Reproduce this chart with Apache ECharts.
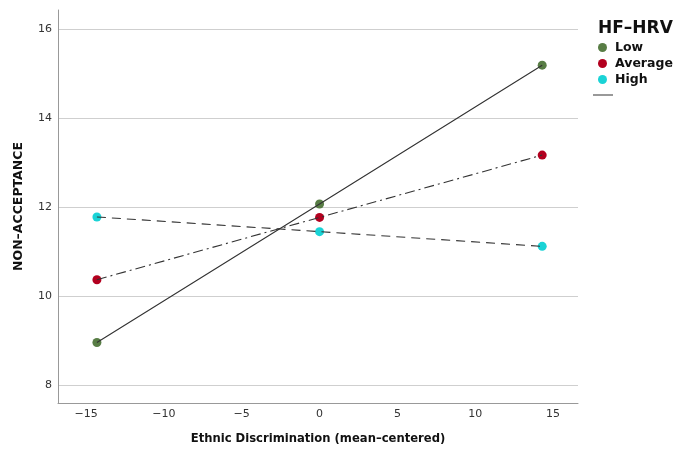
<!DOCTYPE html>
<html>
<head>
<meta charset="utf-8">
<script src="https://cdn.jsdelivr.net/npm/echarts@6/dist/echarts.min.js"></script>
<style>html,body{margin:0;padding:0;background:#fff}#chart{width:676px;height:450px}</style>
</head>
<body>
<div id="chart"></div>
<script>
const xValues = [-14.3, 0, 14.3];
const lowValues = [8.96, 12.07, 15.19];
const averageValues = [10.37, 11.77, 13.17];
const highValues = [11.78, 11.45, 11.12];
const xTicks = [-15, -10, -5, 0, 5, 10, 15];
const yTicks = [8, 10, 12, 14, 16];
const groupNames = ['Low', 'Average', 'High'];
const groupColors = ['#587d45', '#b3001f', '#1ad3d6'];
const lineTypes = ['solid', [10, 4, 2, 4], [9, 6]];
const groupValues = [lowValues, averageValues, highValues];

const FONT = 'DejaVu Sans';
const chart = echarts.init(document.getElementById('chart'), null, {renderer: 'canvas'});

const pairs = vals => xValues.map((x, i) => [x, vals[i]]);
const series = [];
groupNames.forEach((n, i) => {
  series.push({
    name: n, type: 'scatter', data: pairs(groupValues[i]),
    symbolSize: 9, itemStyle: {color: groupColors[i], opacity: 1}, z: 2
  });
});
groupNames.forEach((n, i) => {
  series.push({
    name: 'Fit', type: 'line', data: pairs(groupValues[i]),
    symbol: 'none', lineStyle: {color: '#333', width: 1.1, type: lineTypes[i]},
    itemStyle: {color: '#999'}, z: 3
  });
});

chart.setOption({
  animation: false,
  title: {
    text: 'HF–HRV', left: 593, top: 15,
    textStyle: {fontFamily: FONT, fontSize: 17, fontWeight: 'bold', color: '#111'}
  },
  legend: [{
    data: groupNames, orient: 'vertical', left: 598, top: 41, padding: [0, 0, 0, 0],
    icon: 'circle', itemWidth: 9, itemHeight: 9, itemGap: 3,
    textStyle: {fontFamily: FONT, fontSize: 12.5, fontWeight: 'bold', color: '#111', padding: [0, 0, 0, 3]}
  }, {
    data: [{name: 'Fit', icon: 'rect', itemStyle: {color: '#999'}}],
    left: 593, top: 94, padding: [0, 0, 0, 0], itemWidth: 20, itemHeight: 2,
    formatter: () => ''
  }],
  grid: {left: 58, right: 98, top: 10, bottom: 47, containLabel: false},
  xAxis: {
    type: 'value', min: -16.8, max: 16.6,
    name: 'Ethnic Discrimination (mean–centered)', nameLocation: 'middle', nameGap: 30,
    nameTextStyle: {fontFamily: FONT, fontSize: 11.6, fontWeight: 'bold', color: '#111'},
    axisLine: {show: true, onZero: false, lineStyle: {color: '#999', width: 1}},
    axisTick: {show: false, customValues: xTicks},
    splitLine: {show: false},
    axisLabel: {customValues: xTicks, margin: 6, fontFamily: FONT, fontSize: 11, color: '#333',
      formatter: v => (v < 0 ? '−' + Math.abs(v) : String(v))}
  },
  yAxis: {
    type: 'value', min: 7.6, max: 16.43,
    name: 'NON–ACCEPTANCE', nameLocation: 'middle', nameGap: 33, nameRotate: 90,
    nameTextStyle: {fontFamily: FONT, fontSize: 12.5, fontWeight: 'bold', color: '#111'},
    axisLine: {show: true, onZero: false, lineStyle: {color: '#999', width: 1}},
    axisTick: {show: false, customValues: yTicks},
    splitLine: {show: true, lineStyle: {color: '#cfcfcf', width: 1}},
    axisLabel: {customValues: yTicks, margin: 6, fontFamily: FONT, fontSize: 11, color: '#333'}
  },
  series: series
});
</script>
</body>
</html>
